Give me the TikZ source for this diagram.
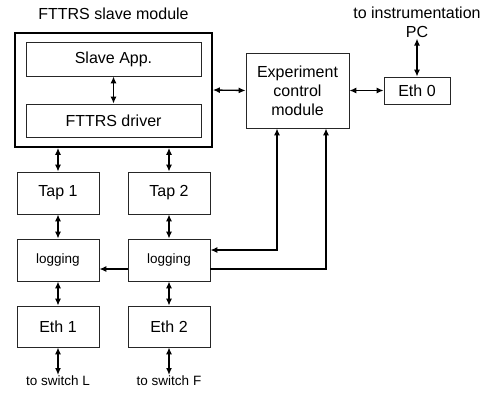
\documentclass[tikz,border=0pt]{standalone}
\usepackage{fontspec}
\setmainfont{Liberation Sans}
\usetikzlibrary{arrows.meta}
\begin{document}
\begin{tikzpicture}[x=1pt,y=-1pt,
  every node/.style={font=\fontsize{16}{19}\selectfont, inner sep=1pt},
  small/.style={font=\fontsize{13.5}{16}\selectfont},
  box/.style={draw=black!85, line width=0.8pt, rectangle},
  outerbox/.style={draw=black, line width=1.7pt, rectangle},
  link/.style={line width=1.3pt, -{Latex[length=7pt,width=6pt]}},
  biarrow/.style={line width=1.3pt, {Latex[length=7pt,width=6pt]}-{Latex[length=7pt,width=6pt]}}
]
\useasboundingbox (0,0) rectangle (492,394);

% FTTRS slave module with its two inner layers
\node at (113.5,14) (title) {FTTRS slave module};
\node[outerbox, minimum width=197pt, minimum height=114pt] at (113.5,90) (slave) {};
\node[box, minimum width=175pt, minimum height=34pt] at (113.5,59) (app) {Slave App.};
\node[box, minimum width=175pt, minimum height=33pt] at (113.5,120.5) (drv) {FTTRS driver};

% two channels: tap, logging, ethernet
\node[box, minimum width=82pt, minimum height=42pt] at (58,193) (tap1) {Tap 1};
\node[box, minimum width=82pt, minimum height=42pt] at (169,193) (tap2) {Tap 2};
\node[box, small, minimum width=82pt, minimum height=42pt] at (58,260) (log1) {logging};
\node[box, small, minimum width=82pt, minimum height=42pt] at (169,260) (log2) {logging};
\node[box, minimum width=82pt, minimum height=41pt] at (58,326.5) (eth1) {Eth 1};
\node[box, minimum width=82pt, minimum height=41pt] at (169,326.5) (eth2) {Eth 2};
\node[small, anchor=north] at (58,375) (swl) {to switch L};
\node[small, anchor=north] at (169,375) (swf) {to switch F};

% experiment control side
\node[box, minimum width=103pt, minimum height=75pt, align=center] at (297.5,90.5) (exp)
  {Experiment\\control\\module};
\node[box, minimum width=66pt, minimum height=27pt] at (417,90.5) (eth0) {Eth 0};
\node[align=center, font=\fontsize{16}{19}\selectfont] at (417,22) (pc) {to instrumentation\\PC};

% connectors
\draw[biarrow] (app) -- (drv);
\draw[biarrow] (slave.east) -- (exp.west);
\draw[biarrow] (exp.east) -- (eth0.west);
\draw[biarrow] (pc.south) -- (eth0.north);
\draw[biarrow] (tap1.north |- slave.south) -- (tap1.north);
\draw[biarrow] (tap2.north |- slave.south) -- (tap2.north);
\draw[biarrow] (tap1) -- (log1);
\draw[biarrow] (tap2) -- (log2);
\draw[biarrow] (log1) -- (eth1);
\draw[biarrow] (log2) -- (eth2);
\draw[biarrow] (eth1) -- (swl.north);
\draw[biarrow] (eth2) -- (swf.north);
\draw[link] ([yshift=-9pt]log2.west) -- ([yshift=-9pt]log1.east);
\draw[biarrow] ([yshift=10pt]log2.east) -| ([xshift=-20.5pt]exp.south);
\draw[link] ([yshift=-9pt]log2.east) -| ([xshift=28.5pt]exp.south);
\end{tikzpicture}
\end{document}
